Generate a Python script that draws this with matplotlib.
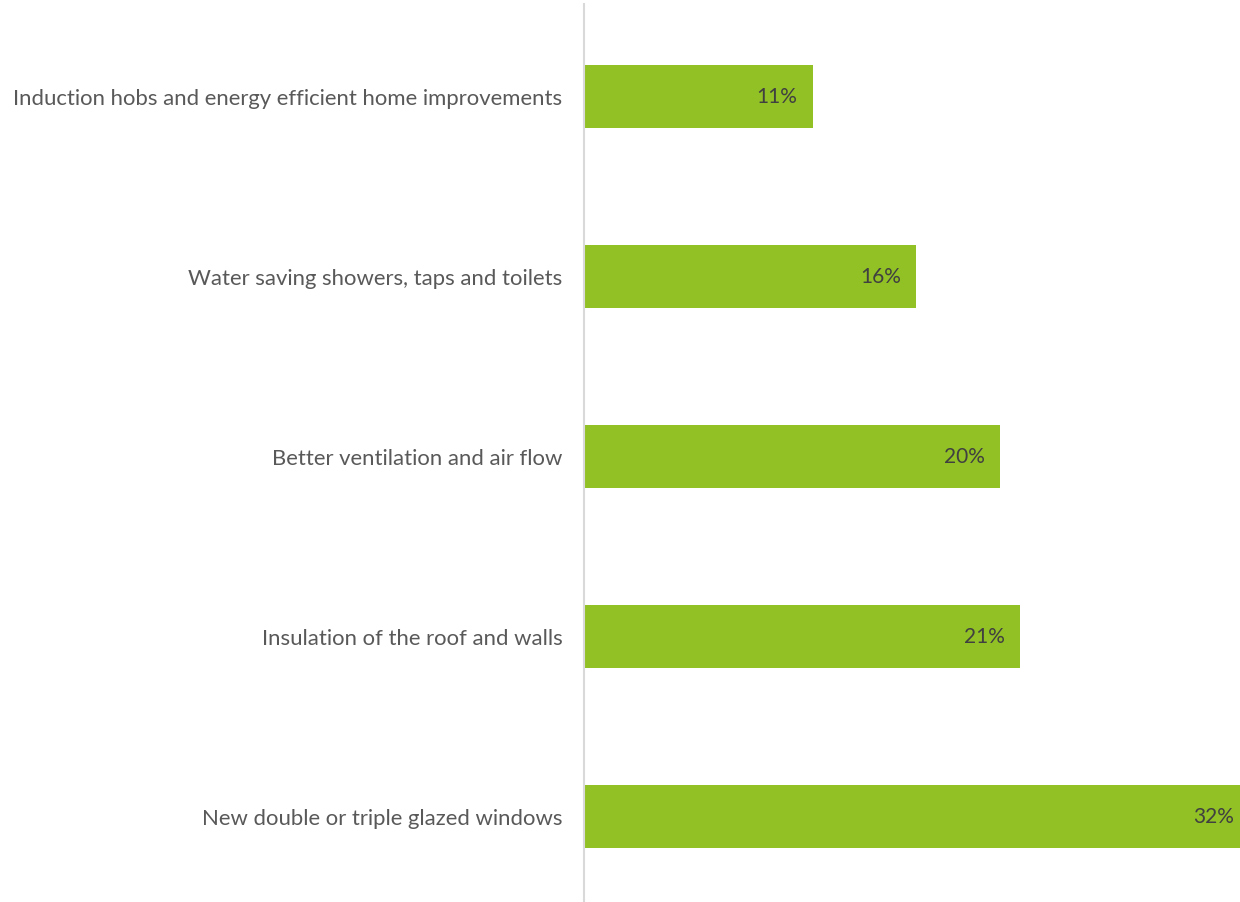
import matplotlib
matplotlib.use("Agg")
import matplotlib.pyplot as plt

categories = [
    "Induction hobs and energy efficient home improvements",
    "Water saving showers, taps and toilets",
    "Better ventilation and air flow",
    "Insulation of the roof and walls",
    "New double or triple glazed windows",
]
values = [11, 16, 20, 21, 32]
value_labels = ["11%", "16%", "20%", "21%", "32%"]

plt.rcParams['font.family'] = ['Lato', 'DejaVu Sans']

fig = plt.figure(figsize=(12.4, 9.03), dpi=100)
ax = fig.add_axes([584/1240, 0, 656/1240, 898/903])

XMAX = 31.57
y = list(range(len(categories)))
ax.barh(y, values, height=0.35, color="#92C125", zorder=2)
ax.set_xlim(0, XMAX)
ax.set_ylim(4.477, -0.512)

for yi, v, lab in zip(y, values, value_labels):
    ax.annotate(lab, xy=(min(v, XMAX), yi), xytext=(-15 if v < XMAX else -6, 0),
                textcoords="offset pixels",
                ha="right", va="center", fontsize=15, color="#404040", zorder=3)

ax.set_yticks(y)
ax.set_yticklabels(categories, fontsize=15.9, color="#595959")
ax.tick_params(axis='y', length=0, pad=15.5)
ax.set_xticks([])
for s in ["top", "right", "bottom"]:
    ax.spines[s].set_visible(False)
ax.spines["left"].set_color("#D9D9D9")
ax.spines["left"].set_linewidth(1.5)

fig.savefig("out.png", dpi=100)
